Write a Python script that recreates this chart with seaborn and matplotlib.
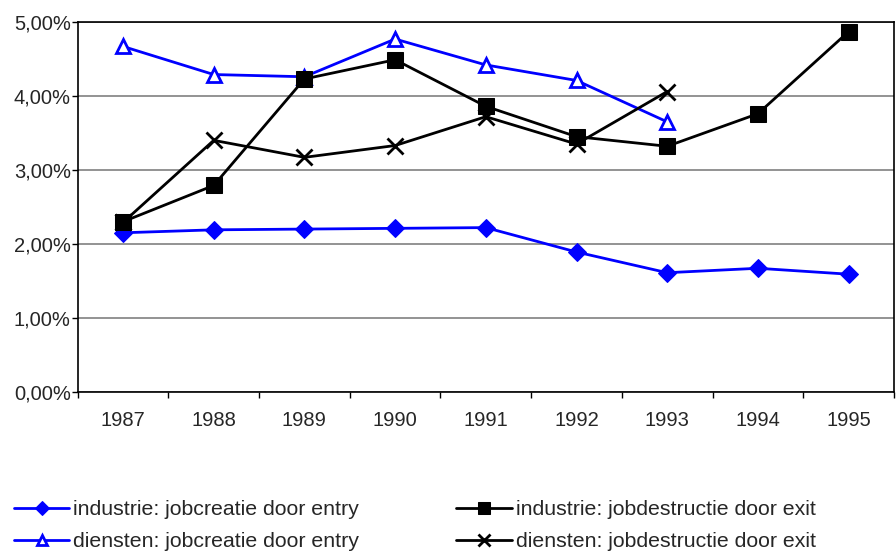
import numpy as np
import pandas as pd
import matplotlib
matplotlib.use("Agg")
import matplotlib.pyplot as plt
import seaborn as sns
from matplotlib.ticker import FuncFormatter, FixedLocator

# data (percent)
years = [1987, 1988, 1989, 1990, 1991, 1992, 1993, 1994, 1995]
ind_creatie = [2.15, 2.19, 2.20, 2.21, 2.22, 1.89, 1.61, 1.67, 1.59]
dien_creatie = [4.67, 4.29, 4.26, 4.77, 4.42, 4.21, 3.65, np.nan, np.nan]
ind_destructie = [2.30, 2.79, 4.23, 4.49, 3.86, 3.45, 3.32, 3.76, 4.87]
dien_destructie = [2.29, 3.40, 3.17, 3.33, 3.72, 3.35, 4.06, np.nan, np.nan]

labels = ["industrie: jobcreatie door entry",
          "diensten: jobcreatie door entry",
          "industrie: jobdestructie door exit",
          "diensten: jobdestructie door exit"]

sns.set_style("white")
plt.rcParams['font.family'] = ['Liberation Sans', 'DejaVu Sans']

fig = plt.figure(figsize=(8.96, 5.51), dpi=100)
ax = fig.add_axes([0.0867, 0.289, 0.911, 0.671])

pos = np.arange(len(years))
df = pd.DataFrame({"pos": pos, "ic": ind_creatie, "dc": dien_creatie,
                   "id": ind_destructie, "dd": dien_destructie})

#styles per series
sns.lineplot(data=df, x="pos", y="ic", ax=ax, color="#0000FF", lw=2,
             marker="D", markersize=9, markeredgecolor="#0000FF", label=labels[0])
sns.lineplot(data=df, x="pos", y="dc", ax=ax, color="#0000FF", lw=2,
             marker="^", markersize=10, markerfacecolor="white",
             markeredgecolor="#0000FF", markeredgewidth=2, label=labels[1])
sns.lineplot(data=df, x="pos", y="id", ax=ax, color="black", lw=2,
             marker="s", markersize=11, markeredgecolor="black", label=labels[2])
sns.lineplot(data=df, x="pos", y="dd", ax=ax, color="black", lw=2,
             marker="x", markersize=11, markeredgecolor="black",
             markeredgewidth=2, label=labels[3])

ax.set_xlim(-0.5, len(years) - 0.5)
ax.set_ylim(0, 5)
ax.set_yticks([0, 1, 2, 3, 4, 5])
ax.yaxis.set_major_formatter(FuncFormatter(lambda v, p: f"{v:.2f}%".replace(".", ",")))
ax.yaxis.grid(True, color="#808080", lw=1.2)
ax.set_axisbelow(True)

# tick marks between categories, labels in the middle
ax.xaxis.set_major_locator(FixedLocator(np.arange(-0.5, len(years), 1.0)))
ax.xaxis.set_major_formatter(FuncFormatter(lambda v, p: ""))
ax.xaxis.set_minor_locator(FixedLocator(pos))
ax.set_xticklabels([str(y) for y in years], minor=True)
ax.tick_params(axis="x", which="major", length=4.5, width=1, color="black", direction="out", bottom=True)
ax.tick_params(axis="x", which="minor", length=0, pad=14, labelsize=14.5)
ax.tick_params(axis="y", length=4.5, width=1, color="black", direction="out", left=True, labelsize=14.5, pad=0.5)

ax.set_xlabel("")
ax.set_ylabel("")
for s in ax.spines.values():
    s.set_color("black")
    s.set_linewidth(1.2)

handles, labs = ax.get_legend_handles_labels()
ax.get_legend().remove()
fig.legend(handles, labs, ncol=2, loc="upper left", bbox_to_anchor=(0.0156, 0.092),
           frameon=False, fontsize=15.3, handlelength=2.6, handletextpad=0.2,
           columnspacing=4.57, labelspacing=0.62, borderpad=0, borderaxespad=0,
           markerscale=0.75)

plt.savefig("out.png", dpi=100)
